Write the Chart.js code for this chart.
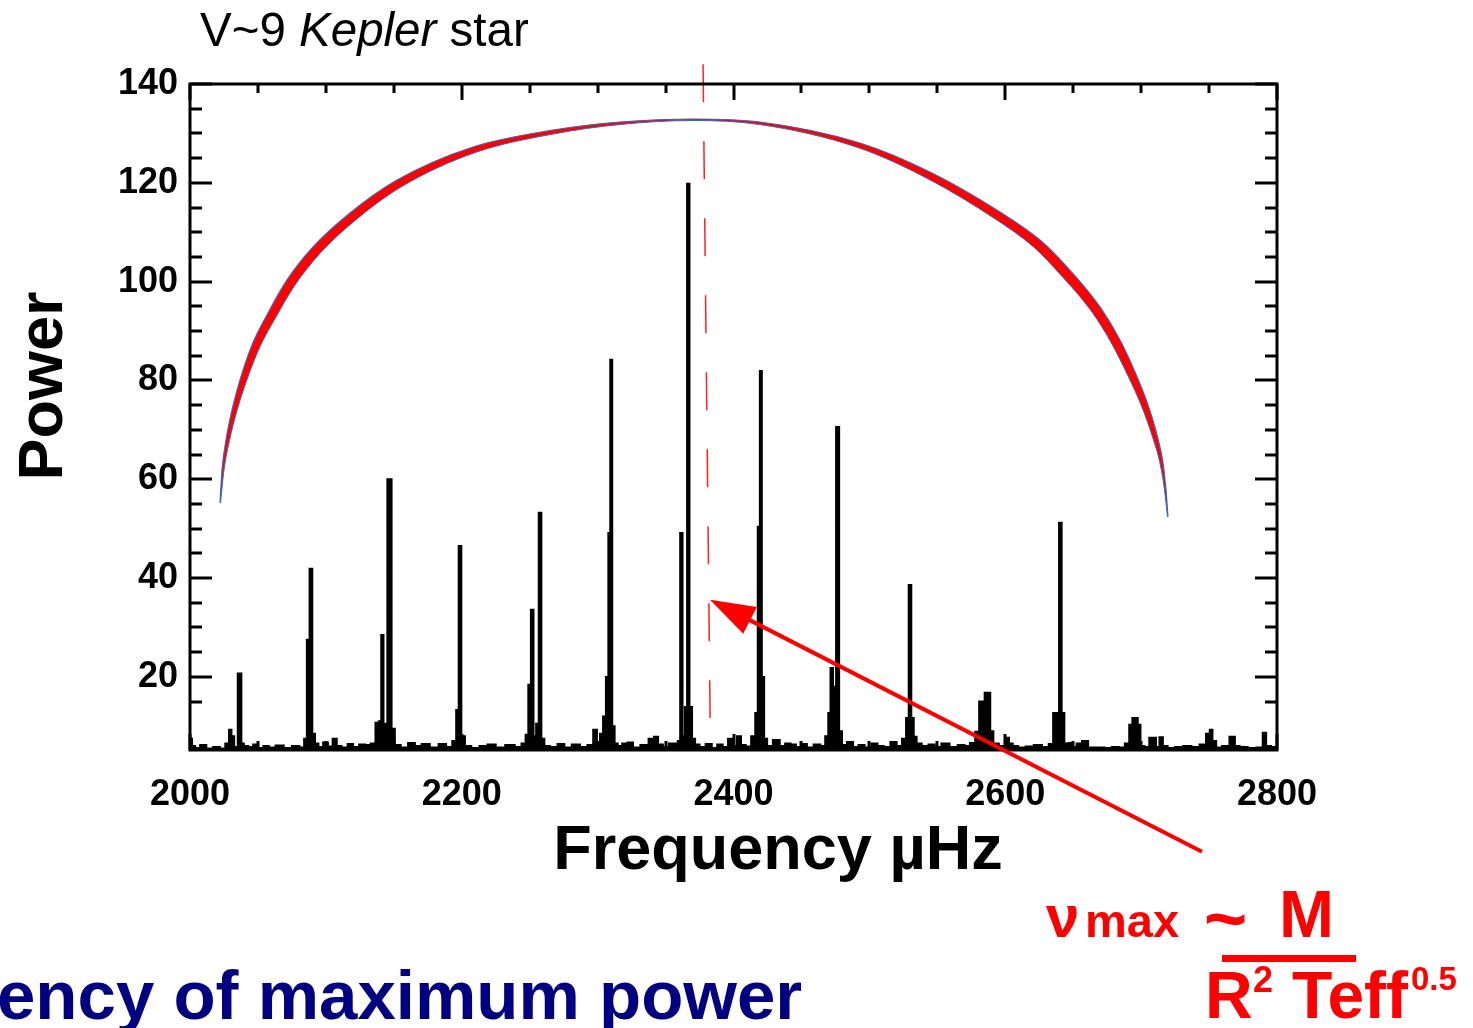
<!DOCTYPE html>
<html>
<head>
<meta charset="utf-8">
<script src="https://cdn.jsdelivr.net/npm/chart.js@4.4.1/dist/chart.umd.min.js"></script>
<style>
  html, body { margin: 0; padding: 0; background: #fff; }
  #wrap { width: 1473px; height: 1028px; position: relative; }
</style>
</head>
<body>
<div id="wrap"><canvas id="chart"></canvas></div>
<script>
// power spectrum (frequency in µHz, power)
const freq = [
  2000.5, 2002.5, 2005, 2010, 2014, 2020, 2024, 2028, 2029.5, 2031.5, 2033.5, 2036.8, 2038.8, 2040.5,
  2045, 2048, 2052, 2056, 2060, 2066, 2072, 2078, 2083, 2085, 2087, 2089, 2091, 2093, 2096, 2100,
  2103, 2107, 2109, 2114, 2118, 2122, 2127, 2131, 2135, 2138, 2140, 2141.5, 2143.3, 2147.2, 2149.5, 2152,
  2158, 2163, 2168, 2173, 2180, 2186, 2191, 2195, 2196.8, 2198.7, 2200.7, 2204, 2210, 2216, 2222, 2228,
  2236, 2242, 2246, 2248, 2250, 2251.8, 2253.8, 2255.7, 2257.6, 2259.6, 2262, 2268, 2273, 2278, 2284, 2290,
  2295, 2298.5, 2300.5, 2303, 2305, 2307.2, 2308.6, 2310, 2311.5, 2313.5, 2316, 2320, 2324, 2328, 2335, 2340,
  2343, 2346, 2350, 2355, 2358, 2360, 2361.5, 2363.5, 2365, 2366.7, 2368.5, 2370.5, 2373, 2377, 2382, 2386,
  2390, 2394, 2398, 2401, 2404, 2407, 2411, 2415, 2417, 2418.7, 2420.1, 2421.6, 2423.5, 2426, 2432, 2436,
  2440, 2444, 2448, 2452, 2456, 2462, 2466, 2469, 2470.5, 2472.3, 2474.2, 2476.8, 2478.7, 2481, 2486, 2490,
  2494, 2499, 2504, 2508, 2513, 2518, 2522, 2526, 2528, 2529.9, 2531.8, 2533.5, 2536, 2541, 2546, 2550,
  2556, 2562, 2568, 2572, 2576, 2579.8, 2581.8, 2583.8, 2585.9, 2587.9, 2590, 2592.5, 2598, 2601.5, 2604, 2607,
  2612, 2618, 2624, 2630, 2634, 2636.5, 2638.7, 2640.5, 2642.5, 2644.5, 2648, 2651, 2654, 2659, 2663, 2670,
  2676, 2681, 2686, 2690, 2692.5, 2694.6, 2696.5, 2698.5, 2700.5, 2704, 2708, 2710, 2712, 2715, 2717, 2722,
  2728, 2734, 2740, 2746, 2749.5, 2751.5, 2753.5, 2757, 2762, 2768, 2770, 2775, 2782, 2788, 2791, 2793,
  2798, 2800
];
const power = [
  7.5, 6.0, 5.6, 6.2, 5.5, 5.8, 5.5, 6.5, 9.3, 8.0, 5.8, 20.7, 6.5, 6.0,
  5.8, 6.3, 5.6, 6.0, 5.7, 6.1, 5.6, 6.0, 5.7, 7.5, 27.5, 41.9, 8.5, 6.5, 5.8, 6.7,
  5.9, 7.5, 6.0, 5.7, 6.4, 5.8, 6.3, 6.2, 6.5, 10.7, 11.0, 28.5, 10.5, 60.0, 9.5, 6.2,
  5.7, 6.6, 6.0, 6.4, 5.7, 6.4, 5.8, 7.0, 13.3, 46.5, 8.0, 6.0, 5.6, 6.0, 6.3, 5.7,
  6.2, 5.8, 6.5, 8.3, 18.4, 33.6, 8.0, 10.5, 53.2, 7.5, 6.0, 5.8, 6.4, 5.7, 6.3, 5.8,
  6.2, 9.3, 6.5, 8.5, 12.0, 20.0, 49.1, 84.2, 10.0, 6.5, 6.0, 6.5, 6.7, 5.7, 6.2, 7.5,
  7.9, 6.3, 5.8, 6.5, 6.5, 7.0, 49.1, 8.0, 13.9, 119.8, 13.9, 7.5, 6.3, 5.8, 6.4, 5.6,
  6.3, 5.8, 7.5, 6.0, 8.0, 6.2, 5.9, 8.0, 12.7, 50.4, 81.9, 20.0, 7.5, 6.0, 7.2, 6.0,
  6.5, 6.3, 5.8, 6.4, 5.7, 6.3, 6.0, 8.0, 12.7, 21.8, 18.0, 70.6, 9.0, 6.2, 6.8, 5.8,
  6.2, 5.7, 6.5, 6.0, 5.8, 6.8, 6.0, 7.5, 11.7, 38.6, 11.7, 7.9, 6.5, 6.0, 6.3, 5.8,
  6.5, 5.8, 6.2, 6.0, 6.6, 8.9, 15.0, 15.0, 16.8, 16.8, 9.0, 6.5, 6.0, 7.7, 6.5, 6.0,
  5.7, 5.9, 6.2, 5.8, 6.4, 12.7, 12.7, 51.2, 12.7, 6.5, 6.6, 5.8, 6.5, 7.0, 5.7, 5.7,
  5.6, 5.8, 5.7, 6.5, 10.3, 11.7, 11.7, 10.3, 6.0, 5.8, 7.7, 7.7, 5.8, 7.8, 6.0, 5.6,
  5.8, 6.0, 5.8, 6.3, 8.5, 9.3, 7.0, 5.7, 6.0, 7.9, 6.0, 5.8, 5.6, 5.7, 8.7, 6.0,
  5.8, 5.5
];

// envelope drawn over the spectrum (outer and inner edge of the red band)
const arcOuterX = [2022.08, 2023.55, 2026.49, 2030.91, 2036.80, 2045.63, 2057.41, 2071.39, 2090.52, 2117.76,
  2152.35, 2208.28, 2267.16, 2316.47, 2370.19, 2419.50, 2493.10, 2544.62, 2596.14, 2625.57, 2645.45,
  2669.73, 2684.45, 2695.49, 2705.06, 2711.68, 2716.10, 2718.30, 2719.77];
const arcOuterY = [55.22, 61.89, 67.96, 74.03, 80.10, 87.19, 93.66, 100.34, 107.02, 113.90,
  120.57, 127.25, 130.69, 132.31, 132.92, 132.31, 128.06, 122.19, 114.10, 108.43, 102.97,
  94.88, 88.20, 81.72, 75.05, 68.98, 63.31, 57.85, 52.38];
const arcInnerX = [2022.45, 2025.02, 2029.07, 2034.52, 2041.36, 2051.08, 2063.22, 2077.20, 2095.68, 2121.95,
  2155.29, 2209.60, 2267.68, 2316.47, 2370.19, 2419.28, 2492.00, 2542.34, 2592.83, 2621.02, 2640.01,
  2664.00, 2678.57, 2690.05, 2700.58, 2708.16, 2713.89, 2717.21, 2719.42];
const arcInnerY = [55.22, 61.85, 67.84, 73.81, 79.72, 86.58, 92.81, 99.27, 105.72, 112.48,
  119.16, 126.10, 129.90, 131.80, 132.61, 131.80, 127.09, 120.92, 112.64, 106.98, 101.61,
  93.78, 87.35, 81.08, 74.62, 68.73, 63.23, 57.83, 52.38];

// nu_max marker and arrow
const numaxX = [2377.6, 2382.8];
const numaxY = [144.0, 11.7];
const arrowFrom = [2744.8, -15.4];
const arrowTo = [2382.7, 35.6];

const xLabels = [2000, 2200, 2400, 2600, 2800];
const yLabels = [20, 40, 60, 80, 100, 120, 140];

const pts = (xs, ys) => xs.map((v, i) => ({ x: v, y: ys[i] }));

const decor = {
  id: 'decor',
  afterDatasetsDraw(chart) {
    const { ctx, chartArea: a, scales: { x, y } } = chart;
    ctx.save();
    ctx.strokeStyle = '#000';
    ctx.lineWidth = 3;
    ctx.lineCap = 'butt';
    const seg = (x1, y1, x2, y2) => { ctx.beginPath(); ctx.moveTo(x1, y1); ctx.lineTo(x2, y2); ctx.stroke(); };

    // inward ticks on all four sides
    x.ticks.forEach(t => {
      if (t.value % 50 !== 0) return;
      const px = Math.round(x.getPixelForValue(t.value));
      const len = xLabels.includes(t.value) ? 16 : 9;
      seg(px, a.top, px, a.top + len);
      seg(px, a.bottom, px, a.bottom - len);
    });
    y.ticks.forEach(t => {
      if (t.value % 5 !== 0) return;
      const py = Math.round(y.getPixelForValue(t.value));
      const len = yLabels.includes(t.value) ? 22 : 12;
      seg(a.left, py, a.left + len, py);
      seg(a.right, py, a.right - len, py);
    });
    ctx.strokeRect(a.left, a.top, a.right - a.left, a.bottom - a.top);

    // red arrow pointing at nu_max
    const tx = x.getPixelForValue(arrowTo[0]), ty = y.getPixelForValue(arrowTo[1]);
    const fx = x.getPixelForValue(arrowFrom[0]), fy = y.getPixelForValue(arrowFrom[1]);
    const dx = fx - tx, dy = fy - ty, d = Math.hypot(dx, dy);
    const ux = dx / d, uy = dy / d;
    const bx = tx + ux * 45, by = ty + uy * 45;
    ctx.strokeStyle = '#ff0000';
    ctx.fillStyle = '#ff0000';
    ctx.lineWidth = 4;
    seg(fx, fy, bx - ux * 2, by - uy * 2);
    ctx.beginPath();
    ctx.moveTo(tx, ty);
    ctx.lineTo(bx - uy * 15, by + ux * 15);
    ctx.lineTo(bx + uy * 15, by - ux * 15);
    ctx.closePath();
    ctx.fill();

    // title
    ctx.fillStyle = '#000';
    ctx.textBaseline = 'alphabetic';
    ctx.textAlign = 'left';
    let cx = 200;
    ctx.font = '47.5px "Liberation Sans", Arial, sans-serif';
    ctx.fillText('V~9 ', cx, 46); cx += ctx.measureText('V~9 ').width;
    ctx.font = 'italic 47.5px "Liberation Sans", Arial, sans-serif';
    ctx.fillText('Kepler', cx, 46); cx += ctx.measureText('Kepler').width;
    ctx.font = '47.5px "Liberation Sans", Arial, sans-serif';
    ctx.fillText(' star', cx, 46);

    // axis titles
    ctx.font = 'bold 63px "Liberation Sans", Arial, sans-serif';
    ctx.textAlign = 'center';
    ctx.fillText('Frequency µHz', 778, 869);
    ctx.save();
    ctx.translate(62, 386);
    ctx.rotate(-Math.PI / 2);
    ctx.fillText('Power', 0, 0);
    ctx.restore();

    // caption at the bottom
    ctx.textAlign = 'left';
    ctx.fillStyle = '#000080';
    ctx.font = 'bold 69px "Liberation Sans", Arial, sans-serif';
    ctx.fillText('ency of maximum power', -3, 1019);

    // scaling relation
    ctx.fillStyle = '#ff0000';
    ctx.font = 'bold 60px "Liberation Sans", Arial, sans-serif';
    ctx.fillText('ν', 1046, 937);
    ctx.font = 'bold 47px "Liberation Sans", Arial, sans-serif';
    ctx.fillText('max', 1085, 937);
    ctx.font = 'bold 74px "Liberation Sans", Arial, sans-serif';
    ctx.fillText('~', 1204, 944);
    ctx.font = 'bold 66px "Liberation Sans", Arial, sans-serif';
    ctx.fillText('M', 1279, 937);
    ctx.fillRect(1222, 955, 134, 7);
    ctx.fillText('R', 1205, 1018);
    ctx.fillText('Teff', 1292, 1018);
    ctx.font = 'bold 36px "Liberation Sans", Arial, sans-serif';
    ctx.fillText('2', 1253, 992);
    ctx.font = 'bold 33px "Liberation Sans", Arial, sans-serif';
    ctx.fillText('0.5', 1411, 990);
    ctx.restore();
  }
};

const ctx = document.getElementById('chart').getContext('2d');
new Chart(ctx, {
  type: 'line',
  data: {
    datasets: [
      {
        label: 'spectrum',
        data: pts(freq, power),
        stepped: 'middle',
        borderColor: '#000',
        backgroundColor: '#000',
        borderWidth: 2,
        pointRadius: 0,
        fill: 'start'
      },
      {
        label: 'envelope outer',
        data: pts(arcOuterX, arcOuterY),
        borderColor: '#3a66b8',
        borderWidth: 1.2,
        pointRadius: 0,
        cubicInterpolationMode: 'monotone',
        fill: false
      },
      {
        label: 'envelope inner',
        data: pts(arcInnerX, arcInnerY),
        borderColor: '#3a66b8',
        borderWidth: 1,
        backgroundColor: '#ff0000',
        pointRadius: 0,
        cubicInterpolationMode: 'monotone',
        fill: '-1'
      },
      {
        label: 'numax',
        data: pts(numaxX, numaxY),
        borderColor: '#ff2020',
        borderWidth: 1.5,
        borderDash: [38, 39],
        pointRadius: 0,
        fill: false,
        clip: false
      }
    ]
  },
  options: {
    responsive: true,
    maintainAspectRatio: false,
    animation: false,
    events: [],
    layout: { padding: { left: 0, top: 84, right: 196, bottom: 0 } },
    plugins: {
      legend: { display: false },
      tooltip: { enabled: false },
      title: { display: false }
    },
    scales: {
      x: {
        type: 'linear',
        min: 2000,
        max: 2800,
        afterFit: s => { s.height = 278; },
        grid: { display: false, drawTicks: false },
        border: { display: false },
        ticks: {
          stepSize: 50,
          autoSkip: false,
          maxRotation: 0,
          padding: 23,
          color: '#000',
          font: { family: '"Liberation Sans", Arial, sans-serif', size: 36, weight: 'bold' },
          callback: v => xLabels.includes(v) ? String(v) : ''
        }
      },
      y: {
        type: 'linear',
        min: 5.2,
        max: 140,
        afterFit: s => { s.width = 190; },
        grid: { display: false, drawTicks: false },
        border: { display: false },
        ticks: {
          stepSize: 5,
          autoSkip: false,
          padding: 12,
          color: '#000',
          font: { family: '"Liberation Sans", Arial, sans-serif', size: 36, weight: 'bold' },
          callback: v => yLabels.includes(v) ? String(v) : ''
        }
      }
    }
  },
  plugins: [decor]
});
</script>
</body>
</html>
